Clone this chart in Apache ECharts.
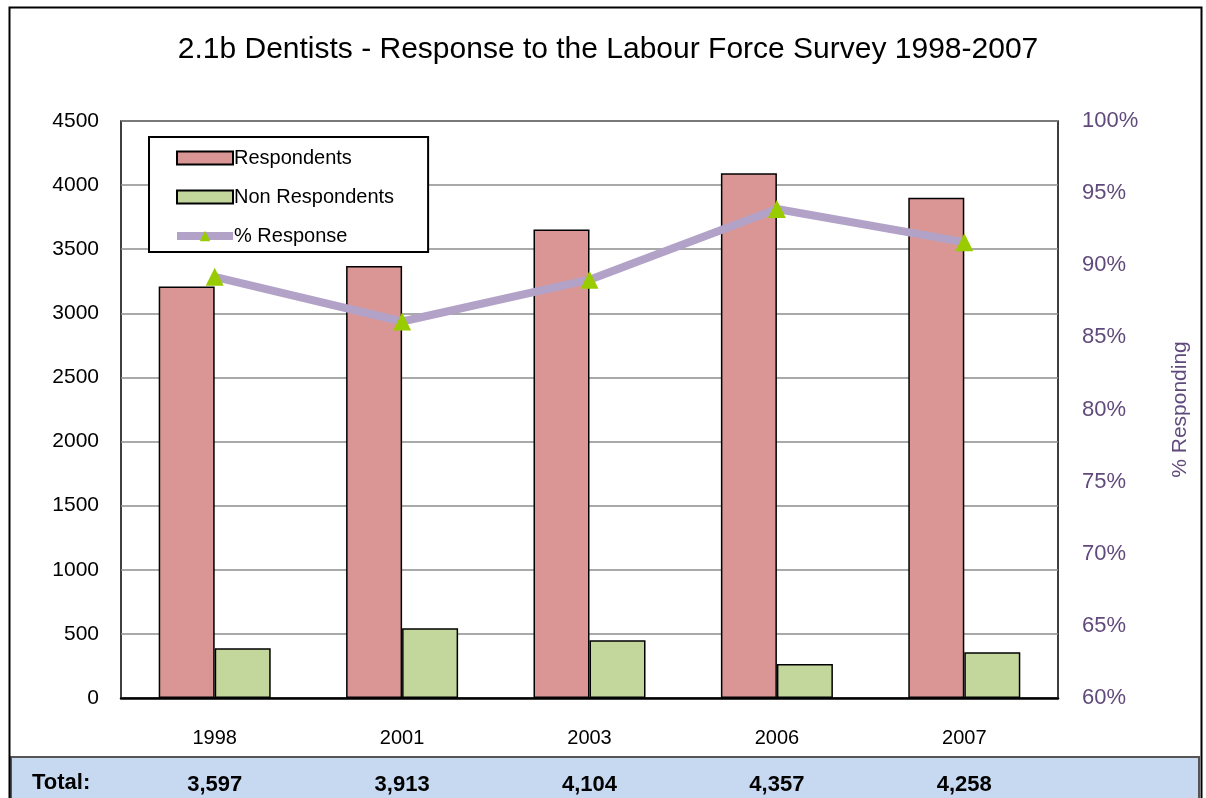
<!DOCTYPE html>
<html><head><meta charset="utf-8">
<script src="https://cdn.jsdelivr.net/npm/echarts@6/dist/echarts.min.js"></script>
<style>html,body{margin:0;padding:0;background:#fff}#c{width:1206px;height:798px}</style>
</head><body><div id="c"></div>
<script>
const years = ['1998','2001','2003','2006','2007'];
const respondents = [3209, 3369, 3654, 4092, 3902];
const nonRespondents = [388, 544, 450, 265, 356];
const pctResponse = [89.2, 86.1, 89.0, 93.9, 91.6];
const totals = ['3,597','3,913','4,104','4,357','4,258'];
const FONT = 'Liberation Sans, Arial, sans-serif';

const chart = echarts.init(document.getElementById('c'));
chart.setOption({
  animation: false,
  textStyle: {fontFamily: FONT},
  title: {text: '2.1b Dentists - Response to the Labour Force Survey 1998-2007', left: 603, top: 30, textAlign: 'center',
    textStyle: {fontFamily: FONT, fontSize: 30, fontWeight: 'normal', color: '#000'}},
  graphic: [
    {type: 'rect', shape: {x: 9.5, y: 7.5, width: 1192, height: 800}, style: {fill: 'none', stroke: '#000', lineWidth: 2}, z: 100},
    {type: 'rect', shape: {x: 11, y: 757, width: 1188, height: 50}, style: {fill: '#c6d9f1', stroke: '#555', lineWidth: 2}, z: -1},
    {type: 'text', left: 32, top: 772, style: {text: 'Total:', font: 'bold 22px ' + FONT, fill: '#000'}}
  ],
  legend: {
    orient: 'vertical', left: 149, top: 137,
    backgroundColor: '#fff', borderColor: '#000', borderWidth: 2,
    padding: [11, 34, 6, 24], itemGap: 19, itemWidth: 56, itemHeight: 13,
    textStyle: {fontFamily: FONT, fontSize: 20, color: '#000', padding: [0, 0, 0, -4]},
    data: [
      {name: 'Respondents', icon: 'rect', itemStyle: {borderColor: '#000', borderWidth: 2}},
      {name: 'Non Respondents', icon: 'rect', itemStyle: {borderColor: '#000', borderWidth: 2}},
      {name: '% Response', lineStyle: {width: 8, color: '#b3a2c7'}}
    ]
  },
  grid: {left: 121, right: 148, top: 121, bottom: 100, show: true, borderColor: '#000', borderWidth: 1.5},
  xAxis: [
    {type: 'category', data: years, axisTick: {show: false},
     axisLine: {lineStyle: {color: '#000', width: 2.5}},
     axisLabel: {fontFamily: FONT, fontSize: 20, color: '#000', margin: 30}},
    {type: 'category', data: totals, position: 'bottom', offset: 64, gridIndex: 0,
     axisTick: {show: false}, axisLine: {show: false},
     axisLabel: {fontFamily: FONT, fontSize: 22, fontWeight: 'bold', color: '#000', margin: 12}}
  ],
  yAxis: [
    {type: 'value', min: 0, max: 4500, interval: 500,
     axisLine: {show: false}, axisTick: {show: false},
     axisLabel: {fontFamily: FONT, fontSize: 21, color: '#000', margin: 22, formatter: v => String(v)},
     splitLine: {lineStyle: {color: '#8c8c8c', width: 1.5}}},
    {type: 'value', min: 60, max: 100, interval: 5, position: 'right',
     name: '% Responding', nameLocation: 'middle', nameGap: 112, nameRotate: 90,
     nameTextStyle: {fontFamily: FONT, fontSize: 21, color: '#604a7b'},
     axisLine: {show: false}, axisTick: {show: false}, splitLine: {show: false},
     axisLabel: {fontFamily: FONT, fontSize: 22, color: '#604a7b', margin: 24, formatter: v => v + '%'}}
  ],
  series: [
    {name: 'Respondents', type: 'bar', data: respondents, barWidth: 56, barGap: '0%',
     itemStyle: {color: '#d99694', borderColor: '#000', borderWidth: 1.5}},
    {name: 'Non Respondents', type: 'bar', data: nonRespondents, barWidth: 56,
     itemStyle: {color: '#c3d69b', borderColor: '#000', borderWidth: 1.5}},
    {name: '% Response', type: 'line', yAxisIndex: 1, data: pctResponse,
     lineStyle: {color: '#b3a2c7', width: 8}, itemStyle: {color: '#99cc00'},
     symbol: 'triangle', symbolSize: 18, z: 5}
  ]
});
</script></body></html>
